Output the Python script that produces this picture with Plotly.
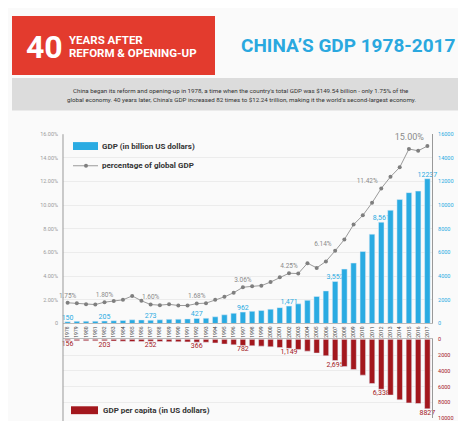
import plotly.graph_objects as go

years = list(range(1978, 2018))
gdp = [149.5, 178.3, 191.1, 195.9, 205.1, 230.7, 259.9, 309.5, 300.8, 273.0,
       312.4, 347.8, 360.9, 383.4, 426.9, 444.7, 564.3, 734.5, 863.7, 961.6,
       1029, 1094, 1211, 1339, 1471, 1660, 1955, 2286, 2752, 3552,
       4598, 5110, 6087, 7552, 8561, 9570, 10476, 11062, 11191, 12237]
share = [1.75, 1.70, 1.62, 1.60, 1.80, 1.90, 2.00, 2.33, 1.92, 1.60,
         1.55, 1.62, 1.52, 1.52, 1.68, 1.72, 2.00, 2.25, 2.60, 3.06,
         3.14, 3.20, 3.50, 3.90, 4.25, 4.22, 5.10, 4.70, 5.25, 6.14,
         7.10, 8.36, 9.14, 10.20, 11.42, 12.40, 13.20, 14.75, 14.60, 15.00]
per_capita = [156, 183, 195, 197, 203, 225, 250, 294, 281, 252,
              284, 311, 318, 333, 366, 377, 473, 610, 709, 782,
              829, 873, 959, 1053, 1149, 1289, 1509, 1753, 2099, 2695,
              3471, 3838, 4550, 5618, 6338, 7078, 7684, 8069, 8147, 8827]

gdp_labels = {1978: "150", 1982: "205", 1987: "273", 1992: "427", 1997: "962",
              2002: "1,471", 2007: "3,552", 2012: "8,561", 2017: "12237"}
share_labels = {1978: "1.75%", 1982: "1.80%", 1987: "1.60%", 1992: "1.68%",
                1997: "3.06%", 2002: "4.25%", 2007: "6.14%", 2012: "11.42%",
                2017: "15.00%"}
pc_labels = {1978: "156", 1982: "203", 1987: "252", 1992: "366", 1997: "782",
             2002: "1,149", 2007: "2,695", 2012: "6,338", 2017: "8827"}

pct_ticks = [0, 2, 4, 6, 8, 10, 12, 14, 16]
pct_ticktext = ["0", "2.00%", "4.00%", "6.00%", "8.00%", "10.00%", "12.00%", "14.00%", "16.00%"]
gdp_ticks = [0, 2000, 4000, 6000, 8000, 10000, 12000, 14000, 16000]
pc_ticks = [0, 2000, 4000, 6000, 8000, 10000]

BLUE = "#2aabe2"
RED = "#a3171d"
W, H = 466, 421

def py(px):
    return 1 - px / H

def pxx(px):
    return px / W

fig = go.Figure()

fig.add_trace(go.Bar(
    x=years, y=gdp, xaxis="x", yaxis="y2", marker_color=BLUE, width=0.6,
    text=[gdp_labels.get(y, "") for y in years], textposition="outside",
    textfont=dict(color=BLUE, size=7, family="Roboto"), constraintext="none",
    cliponaxis=False, showlegend=False))

fig.add_trace(go.Scatter(
    x=years, y=share, xaxis="x", yaxis="y", mode="lines+markers+text",
    line=dict(color="#9a9a9a", width=1), marker=dict(color="#7f7f7f", size=4),
    text=[share_labels.get(y, "") for y in years],
    textposition=["top left" if y in (2007, 2012, 2017) else "top center" for y in years],
    textfont=dict(color="#8a8a8a", size=[9 if y == 2017 else 6.5 for y in years], family="Roboto"),
    cliponaxis=False, showlegend=False))

fig.add_trace(go.Bar(
    x=years, y=per_capita, xaxis="x2", yaxis="y3", marker_color=RED, width=0.6,
    text=[pc_labels.get(y, "") for y in years], textposition="outside",
    textfont=dict(color=RED, size=7, family="Roboto"), constraintext="none",
    cliponaxis=False, showlegend=False))

xdom = [pxx(55), pxx(424)]
fig.update_layout(
    width=W, height=H, margin=dict(l=0, r=0, t=0, b=0),
    paper_bgcolor="#fafafa", plot_bgcolor="rgba(0,0,0,0)",
    font=dict(family="Roboto", color="#333"),
    xaxis=dict(domain=xdom, anchor="y", range=[1977.5, 2017.5],
               tickmode="array", tickvals=years, ticktext=[str(y) for y in years],
               tickangle=-90, tickfont=dict(size=5, color="#444"),
               showgrid=False, showline=True, linecolor="#bbb", linewidth=1,
               ticks="", zeroline=False),
    yaxis=dict(domain=[py(317), py(125)], anchor="x", range=[0, 16],
               tickmode="array", tickvals=pct_ticks, ticktext=pct_ticktext,
               tickfont=dict(size=5.5, color="#9a9a9a"), ticklabelstandoff=4,
               showgrid=True, gridcolor="#ececec", gridwidth=1,
               zeroline=False, showline=False, ticks=""),
    yaxis2=dict(overlaying="y", side="right", anchor="x", range=[0, 16000],
                tickmode="array", tickvals=gdp_ticks,
                ticktext=[str(v) for v in gdp_ticks],
                tickfont=dict(size=5.5, color=BLUE), ticklabelstandoff=4,
                showgrid=False, zeroline=False, showline=True,
                linecolor="#999", linewidth=1, ticks=""),
    xaxis2=dict(domain=xdom, anchor="y3", range=[1977.5, 2017.5], side="top",
                showticklabels=False, showgrid=False, showline=True,
                linecolor="#bbb", linewidth=1, ticks="", zeroline=False),
    yaxis3=dict(domain=[py(413), py(333)], anchor="x2", range=[10000, 0],
                side="right", tickmode="array", tickvals=pc_ticks,
                ticktext=[str(v) for v in pc_ticks],
                tickfont=dict(size=5.5, color=RED), ticklabelstandoff=4,
                showgrid=True, gridcolor="#ececec", zeroline=False,
                showline=True, linecolor="#999", linewidth=1, ticks=""),
)

shapes = [
    dict(type="rect", xref="paper", yref="paper", x0=pxx(4), x1=pxx(207),
         y0=py(65), y1=py(5), fillcolor="#e33b2e", line_width=0, layer="below"),
    dict(type="rect", xref="paper", yref="paper", x0=pxx(4), x1=pxx(462),
         y0=py(101), y1=py(68), fillcolor="#dcdcdc", line_width=0, layer="below"),
    dict(type="line", xref="paper", yref="paper", x0=xdom[0], x1=xdom[0],
         y0=py(418), y1=py(125), line=dict(color="#999", width=1)),
    dict(type="rect", xref="paper", yref="paper", x0=pxx(65), x1=pxx(90),
         y0=py(141), y1=py(133), fillcolor=BLUE, line_width=0),
    dict(type="line", xref="paper", yref="paper", x0=pxx(65), x1=pxx(90),
         y0=py(157), y1=py(157), line=dict(color="#9a9a9a", width=1)),
    dict(type="circle", xref="paper", yref="paper", x0=pxx(76), x1=pxx(80),
         y0=py(159), y1=py(155), fillcolor="#7f7f7f", line_width=0),
    dict(type="rect", xref="paper", yref="paper", x0=pxx(63), x1=pxx(90),
         y0=py(409), y1=py(401), fillcolor=RED, line_width=0),
]
fig.update_layout(shapes=shapes)

def ann(text, x, y, size, color, bold=True, xanchor="left", family="Roboto"):
    t = f"<b>{text}</b>" if bold else text
    fig.add_annotation(text=t, x=pxx(x), y=py(y), xref="paper", yref="paper",
                       showarrow=False, xanchor=xanchor, yanchor="middle",
                       borderpad=0, font=dict(size=size, color=color, family=family))

ann("40", 17, 37, 32, "white")
ann("YEARS AFTER", 60, 29, 11.5, "white")
ann("REFORM &amp; OPENING-UP", 60, 43, 11.5, "white")
ann("CHINA’S GDP 1978-2017", 340, 35, 19, "#2aa8df", xanchor="center")
ann("China began its reform and opening-up in 1978, a time when the country's total GDP was $149.54 billion - only 1.75% of the",
    233, 81, 6.2, "#333", bold=False, xanchor="center")
ann("global economy. 40 years later, China's GDP increased 82 times to $12.24 trillion, making it the world's second-largest economy.",
    233, 90, 6.2, "#333", bold=False, xanchor="center")
ann("GDP (in billion US dollars)", 93, 137, 8, "#333")
ann("percentage of global GDP", 93, 157, 8, "#333")
ann("GDP per capita (in US dollars)", 94, 405, 8, "#333")

fig.write_html("out.html")
